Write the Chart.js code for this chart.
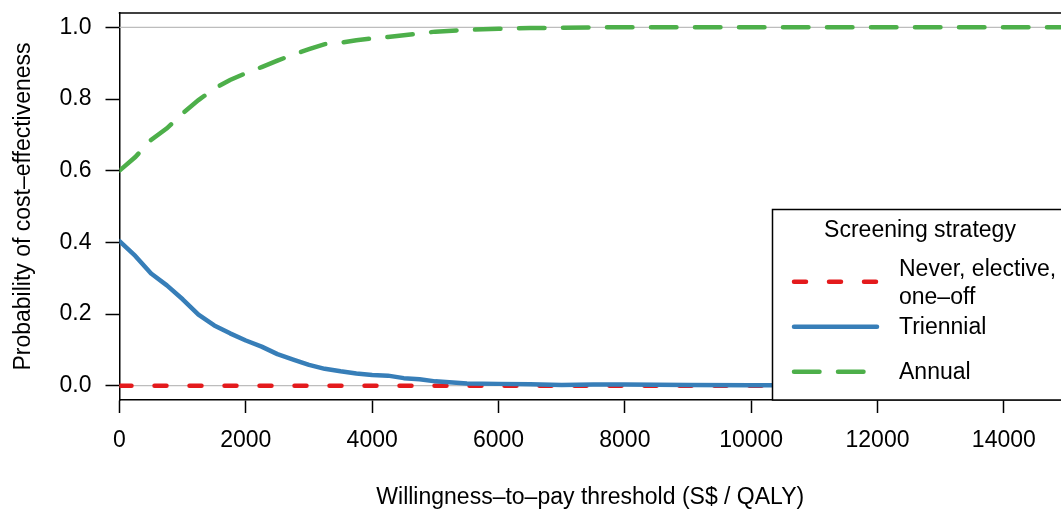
<!DOCTYPE html>
<html><head><meta charset="utf-8">
<script src="https://cdn.jsdelivr.net/npm/chart.js@4.4.0/dist/chart.umd.min.js"></script>
<style>html,body{margin:0;padding:0;background:#fff;overflow:hidden}</style>
</head><body>
<canvas id="c" width="1061" height="512"></canvas>
<script>
const wtp = [0,250,500,750,1000,1250,1500,1750,2000,2250,2500,2750,3000,3250,3500,3750,4000,4250,4500,4750,5000,5500,6000,6500,7000,7500,8000,9000,10000,11000,12000,13000,14000,15000];
const annual = [0.600,0.638,0.686,0.718,0.760,0.797,0.829,0.853,0.872,0.889,0.907,0.924,0.939,0.953,0.957,0.964,0.969,0.973,0.978,0.983,0.988,0.993,0.996,0.998,0.999,1.0,1.0,1.0,1.0,1.0,1.0,1.0,1.0,1.0];
const triennial = [0.403,0.362,0.313,0.280,0.241,0.198,0.168,0.146,0.126,0.109,0.088,0.073,0.058,0.047,0.040,0.034,0.030,0.028,0.021,0.018,0.012,0.006,0.005,0.004,0.002,0.003,0.003,0.002,0.001,0.001,0.0,0.0,0.0,0.0];
const neverElectiveOneOff = [0,0,0,0,0,0,0,0,0,0,0,0,0,0,0,0,0,0,0,0,0,0,0,0,0,0,0,0,0,0,0,0,0,0];
const xTicks = [0,2000,4000,6000,8000,10000,12000,14000];
const yTicks = [0,0.2,0.4,0.6,0.8,1.0];
const refLines = [0,1];
const legendTitle = 'Screening strategy';
const legendLabels = [['Never, elective,','one\u2013off'],['Triennial'],['Annual']];
const xTitle = 'Willingness\u2013to\u2013pay threshold (S$ / QALY)';
const yTitle = 'Probability of cost\u2013effectiveness';

const FAM = '"Liberation Sans", Arial, Helvetica, sans-serif';
const RED = '#E41A1C', BLUE = '#377EB8', GREEN = '#4DAF4A';
const LW = 4.5;
const DASH_RED = [12, 23];
const DASH_GREEN = [25.5, 18.5];

const pts = arr => wtp.map((x,i)=>({x:x, y:arr[i]}));

const extras = {
  id:'extras',
  beforeDatasetsDraw(chart){
    const {ctx, chartArea:a, scales:{y}} = chart;
    ctx.save();
    ctx.strokeStyle = '#bdbdbd'; ctx.lineWidth = 1.2;
    refLines.forEach(v=>{
      const py = y.getPixelForValue(v);
      ctx.beginPath(); ctx.moveTo(a.left, py); ctx.lineTo(a.right, py); ctx.stroke();
    });
    ctx.restore();
  },
  afterDraw(chart){
    const {ctx, chartArea:a} = chart;
    ctx.save();
    ctx.strokeStyle = '#000'; ctx.lineWidth = 1.5;
    ctx.beginPath(); ctx.moveTo(a.left - 0.75, a.top); ctx.lineTo(a.right + 2, a.top); ctx.stroke();
    const bx = 772.5, by = 209.5, bw = 400, bh = a.bottom - by;
    ctx.fillStyle = '#fff';
    ctx.fillRect(bx, by, bw, bh);
    ctx.strokeRect(bx, by, bw, bh);
    ctx.fillStyle = '#000';
    ctx.font = '23px ' + FAM;
    ctx.textBaseline = 'middle';
    ctx.textAlign = 'center';
    ctx.fillText(legendTitle, 920, 231);
    ctx.textAlign = 'left';
    const entries = [
      {color:RED, dash:DASH_RED, ly:281.7, texts:legendLabels[0], ty:[269.5,297.5]},
      {color:BLUE, dash:[], ly:326.7, texts:legendLabels[1], ty:[328]},
      {color:GREEN, dash:DASH_GREEN, ly:371.7, texts:legendLabels[2], ty:[372.5]}
    ];
    entries.forEach(e=>{
      ctx.save();
      ctx.strokeStyle = e.color; ctx.lineWidth = LW; ctx.lineCap = 'round';
      ctx.setLineDash(e.dash);
      ctx.beginPath(); ctx.moveTo(794, e.ly); ctx.lineTo(877, e.ly); ctx.stroke();
      ctx.restore();
      e.texts.forEach((t,k)=>ctx.fillText(t, 899, e.ty[k]));
    });
    ctx.restore();
  }
};

new Chart(document.getElementById('c'), {
  type:'line',
  data:{datasets:[
    {label:'Annual', data:pts(annual), borderColor:GREEN, borderWidth:LW, borderDash:DASH_GREEN, borderCapStyle:'round', pointRadius:0, tension:0, fill:false},
    {label:'Triennial', data:pts(triennial), borderColor:BLUE, borderWidth:LW, borderCapStyle:'round', borderJoinStyle:'round', pointRadius:0, tension:0, fill:false},
    {label:'Never, elective, one\u2013off', data:pts(neverElectiveOneOff), borderColor:RED, borderWidth:LW, borderDash:DASH_RED, borderCapStyle:'round', pointRadius:0, tension:0, fill:false}
  ]},
  options:{
    responsive:false, animation:false, devicePixelRatio:1,
    layout:{padding:{top:0,right:0,left:0,bottom:0}},
    plugins:{legend:{display:false}, tooltip:{enabled:false}},
    scales:{
      x:{type:'linear', min:0, max:14905,
        afterBuildTicks:s=>{s.ticks = xTicks.map(v=>({value:v}));},
        afterFit:s=>{s.height = 112; s.paddingRight = 0;},
        ticks:{callback:v=>String(v), font:{family:FAM,size:23}, color:'#000', padding:14, maxRotation:0, autoSkip:false},
        grid:{drawOnChartArea:false, drawTicks:true, tickLength:13, tickColor:'#000', tickWidth:1.5},
        border:{display:true, color:'#000', width:1.5},
        title:{display:true, text:xTitle, font:{family:FAM,size:23}, color:'#000', padding:{top:0,bottom:1}}
      },
      y:{type:'linear', min:-0.04, max:1.04,
        afterBuildTicks:s=>{s.ticks = yTicks.map(v=>({value:v}));},
        afterFit:s=>{s.width = 119.5; s.paddingTop = 13; s.paddingBottom = 0;},
        ticks:{callback:v=>Number(v).toFixed(1), font:{family:FAM,size:23}, color:'#000', padding:14, autoSkip:false},
        grid:{drawOnChartArea:false, drawTicks:true, tickLength:14, tickColor:'#000', tickWidth:1.5},
        border:{display:true, color:'#000', width:1.5},
        title:{display:true, text:yTitle, font:{family:FAM,size:23}, color:'#000', padding:{top:10,bottom:0}}
      }
    }
  },
  plugins:[extras]
});
</script>
</body></html>
